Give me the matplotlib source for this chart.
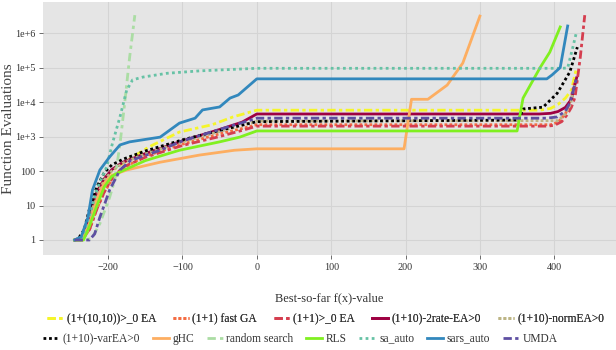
import numpy as np
import matplotlib.pyplot as plt

plt.rcParams['font.family'] = ['Liberation Serif', 'DejaVu Serif']

# best-so-far f(x) values (x) and function evaluations (y) per algorithm
ea_1_10_10_x = [-245, -235, -225, -215, -205, -195, -180, -145, -104, -60, -32, 0, 380, 395, 405, 415, 423, 430]
ea_1_10_10_y = [1, 1.1, 5, 25, 60, 100, 170, 500, 1350, 2200, 3700, 5800, 5800, 6500, 8500, 13000, 22000, 100000]

fast_ga_x = [-245, -235, -225, -215, -205, -195, -180, -150, -100, -50, -20, 0, 395, 405, 415, 422, 428]
fast_ga_y = [1, 1, 2, 8, 25, 55, 120, 270, 600, 1200, 1700, 2200, 2200, 2600, 4500, 12000, 44000]

ea_1_1_x = [-245, -235, -225, -215, -205, -195, -180, -150, -100, -50, -20, 0, 390, 400, 410, 417, 423, 428, 435, 441]
ea_1_1_y = [1, 1, 2, 8, 25, 60, 130, 250, 550, 1000, 1500, 2000, 2000, 2100, 2700, 4200, 7000, 14000, 200000, 3300000]

rate2_x = [-245, -235, -225, -215, -205, -195, -180, -150, -100, -50, -20, 0, 380, 395, 405, 415, 423, 430]
rate2_y = [1, 1.1, 5, 25, 60, 110, 180, 320, 750, 1600, 2600, 4500, 4500, 4700, 5300, 7000, 12000, 50000]

norm_x = [-245, -235, -225, -215, -205, -195, -180, -150, -100, -50, 0, 405, 415, 422, 428]
norm_y = [1, 1.1, 4, 20, 55, 100, 170, 320, 700, 1400, 2800, 2900, 4500, 9000, 37000]

var_x = [-245, -240, -232, -225, -215, -205, -195, -180, -150, -100, -50, 0, 352, 358, 385, 404, 421, 431]
var_y = [1, 1.1, 2, 8, 35, 90, 150, 220, 380, 800, 1500, 2700, 3000, 6300, 7100, 18000, 75000, 390000]

ghc_x = [-245, -235, -225, -215, -205, -195, -175, -130, -77, -30, 0, 198, 208, 230, 256, 277, 300]
ghc_y = [1, 1, 3, 15, 45, 75, 107, 180, 290, 400, 440, 440, 12000, 12000, 31000, 135000, 3100000]

rs_x = [-245, -233, -222, -211, -198, -191, -184, -178, -171, -164]
rs_y = [1, 1, 1.1, 3, 17, 55, 600, 8000, 200000, 3300000]

rls_x = [-245, -233, -225, -215, -205, -195, -184, -150, -104, -50, -23, 0, 350, 358, 381, 394, 408]
rls_y = [1, 1, 2.5, 10, 35, 70, 94, 200, 400, 700, 960, 1450, 1450, 13000, 100000, 280000, 1500000]

sa_x = [-245, -235, -225, -215, -202, -194, -184, -175, -167, -153, -121, -77, 0, 410, 418, 425, 430]
sa_y = [1, 1.2, 5, 30, 130, 650, 3700, 22000, 44000, 53000, 68000, 80000, 95000, 95000, 97000, 390000, 1100000]

sars_x = [-245, -236, -227, -221, -211, -198, -184, -171, -130, -104, -83, -73, -50, -36, -25, 0, 390, 397, 408, 418]
sars_y = [1, 1.25, 4.6, 28, 107, 255, 570, 700, 960, 2450, 3400, 5900, 7200, 13000, 16000, 47000, 47000, 61000, 100000, 1600000]

umda_x = [-245, -225, -218, -211, -204, -198, -190, -184, -170, -130, -100, -50, 0, 390, 404, 415, 421, 430]
umda_y = [1, 1, 1.5, 4.6, 12, 28, 60, 107, 200, 400, 750, 1600, 3400, 3400, 3700, 5500, 9500, 50000]

labels = ['(1+(10,10))>_0 EA', '(1+1) fast GA', '(1+1)>_0 EA', '(1+10)-2rate-EA>0', '(1+10)-normEA>0',
          '(1+10)-varEA>0', 'gHC', 'random search', 'RLS', 'sa_auto', 'sars_auto', 'UMDA']
xs = [ea_1_10_10_x, fast_ga_x, ea_1_1_x, rate2_x, norm_x, var_x, ghc_x, rs_x, rls_x, sa_x, sars_x, umda_x]
ys = [ea_1_10_10_y, fast_ga_y, ea_1_1_y, rate2_y, norm_y, var_y, ghc_y, rs_y, rls_y, sa_y, sars_y, umda_y]

colors = ['#F5F52A', '#F46D43', '#D53E4F', '#9E0142', '#BDB585', '#000000',
          '#FDAE61', '#ABDDA4', '#80F020', '#66C2A5', '#3288BD', '#5E4FA2']
dashdot = (0, (3, 1.2, 1.2, 1.2))
styles = [dashdot, (0, (1, 0.8)), dashdot, '-', (0, (1, 0.8)), (0, (1, 1)),
          '-', (0, (3, 1.5, 1.2, 1.5)), '-', (0, (1, 1.2)), '-', dashdot]

fig = plt.figure(figsize=(6.16, 3.5), dpi=100)
ax = fig.add_axes([43 / 616, 1 - 255 / 350, 1 - 43 / 616, 253 / 350])
ax.set_facecolor('#E5E5E5')

handles = []
for x, y, c, s, lab in zip(xs, ys, colors, styles, labels):
    h, = ax.plot(x, y, color=c, linestyle=s, linewidth=2, label=lab)
    handles.append(h)

ax.set_yscale('log')
ax.set_xlim(-287.5, 483)
ax.set_ylim(10 ** -0.435, 10 ** 6.9)
ax.set_xticks([-200, -100, 0, 100, 200, 300, 400])
ax.set_yticks([1, 10, 100, 1e3, 1e4, 1e5, 1e6])
ax.set_yticklabels(['1', '10', '100', '1e+3', '1e+4', '1e+5', '1e+6'])
ax.minorticks_off()
ax.grid(True, color='#D4D4D4', linewidth=0.8)
ax.set_axisbelow(True)
for sp in ax.spines.values():
    sp.set_visible(False)
ax.tick_params(labelsize=7.3, colors='#333333', length=3, width=0.6, pad=2.5)
ax.tick_params(axis='both', color='#555555')
ax.set_ylabel('Function Evaluations', fontsize=11, color='#444444')
ax.yaxis.set_label_coords((15 - 43) / 573, 0.5)

fig.text(329.5 / 616, 1 - 298 / 350, 'Best-so-far f(x)-value', ha='center', va='center',
         fontsize=9, color='#333333')

leg_kw = dict(frameon=False, fontsize=8.3, handlelength=1.4, handletextpad=0.3,
              borderpad=0, borderaxespad=0, labelcolor='#333333',
              bbox_transform=fig.transFigure, loc='center left')
leg1 = fig.legend(handles=handles[:5], ncol=5, columnspacing=1.45,
                  bbox_to_anchor=(47 / 616, 1 - 319 / 350), **leg_kw)
fig.add_artist(leg1)
fig.legend(handles=handles[5:], ncol=7, columnspacing=1.1,
           bbox_to_anchor=(43 / 616, 1 - 339 / 350), **leg_kw)

fig.savefig('out.png', dpi=100)
